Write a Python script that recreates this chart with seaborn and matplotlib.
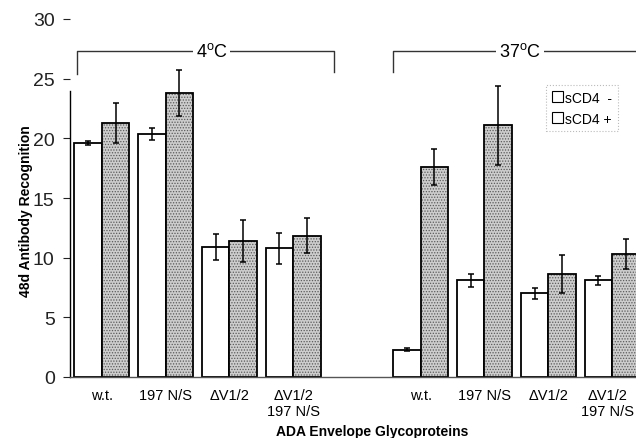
import numpy as np
import pandas as pd
import matplotlib
matplotlib.use("Agg")
import matplotlib.pyplot as plt
import matplotlib.transforms as mtransforms
import seaborn as sns
from matplotlib.patches import Patch

# ---- data ----
slots = ["4_wt", "4_197", "4_dV", "4_dV197", "gap", "37_wt", "37_197", "37_dV", "37_dV197"]
tick_labels = ["w.t.", "197 N/S", "\u0394V1/2", "\u0394V1/2\n197 N/S", "",
               "w.t.", "197 N/S", "\u0394V1/2", "\u0394V1/2\n197 N/S"]
groups = ["4_wt", "4_197", "4_dV", "4_dV197", "37_wt", "37_197", "37_dV", "37_dV197"]
minus_vals = [19.6, 20.4, 10.9, 10.8, 2.3, 8.1, 7.0, 8.1]
minus_err = [0.15, 0.5, 1.1, 1.3, 0.15, 0.55, 0.5, 0.35]
plus_vals = [21.3, 23.8, 11.4, 11.85, 17.6, 21.1, 8.6, 10.3]
plus_err = [1.65, 1.95, 1.75, 1.45, 1.5, 3.3, 1.6, 1.25]
series = ["sCD4  -", "sCD4 +"]
yticks = [0, 5, 10, 15, 20, 25, 30]

df = pd.DataFrame({
    "slot": groups * 2,
    "value": minus_vals + plus_vals,
    "err": minus_err + plus_err,
    "treat": [series[0]] * len(groups) + [series[1]] * len(groups),
})

plt.rcParams["font.family"] = ["Liberation Sans", "DejaVu Sans"]
plt.rcParams["mathtext.default"] = "regular"

fig = plt.figure(figsize=(6.36, 4.39), dpi=100)
ax = fig.add_axes([70 / 636, 1 - 378 / 439, 1 - 70 / 636, 358 / 439])

width = 0.86
sns.barplot(data=df, x="slot", y="value", hue="treat", order=slots,
            hue_order=series, palette=["white", "#cdcdcd"], width=width,
            edgecolor="black", linewidth=1.3, errorbar=None, dodge=True,
            legend=False, ax=ax, gap=0)

# stipple texture for sCD4+ bars
for p in ax.patches:
    if p.get_facecolor()[0] < 0.95 and p.get_height() > 0:
        p.set_hatch("......")
        p.set_hatch_linewidth(0.6)
        p._hatch_color = matplotlib.colors.to_rgba("#5a5a5a")

# error bars
idx = {s: i for i, s in enumerate(slots)}
xm = [idx[g] - width / 4 for g in groups]
xp = [idx[g] + width / 4 for g in groups]
ax.errorbar(xm, minus_vals, yerr=minus_err, fmt="none", ecolor="black",
            elinewidth=1.1, capsize=2.5, capthick=1.1)
ax.errorbar(xp, plus_vals, yerr=plus_err, fmt="none", ecolor="black",
            elinewidth=1.1, capsize=2.5, capthick=1.1)

ax.set_xlim(-0.5, (636 - 102) / 63.75)
ax.set_ylim(0, 30)
ax.set_yticks(yticks)
ax.set_yticklabels([str(t) for t in yticks], fontsize=14)
ax.tick_params(axis="y", length=5, width=0.8, pad=6, colors="#222222")
ax.set_xticks(range(len(slots)))
ax.set_xticklabels(tick_labels, fontsize=10.5, linespacing=1.2)
ax.tick_params(axis="x", length=0, pad=8)
# nudge the last (edge) label so it stays inside the figure
last = ax.get_xticklabels()[-1]
last.set_transform(last.get_transform() +
                   mtransforms.ScaledTranslation(-4 / 100, 0, fig.dpi_scale_trans))
ax.set_xlabel("")
ax.set_ylabel("")
for s in ["top", "right"]:
    ax.spines[s].set_visible(False)
ax.spines["left"].set_bounds(0, 24)
ax.spines["left"].set_linewidth(1.0)
ax.spines["bottom"].set_linewidth(1.0)
ax.spines["bottom"].set_color("#555555")

# temperature brackets
bk = dict(color="#333333", lw=1.0, clip_on=False)
ax.plot([-0.39, -0.39, 3.64, 3.64], [25.4, 27.3, 27.3, 25.6], **bk)
ax.plot([4.56, 4.56, 8.5], [25.6, 27.3, 27.3], **bk)
ax.text(1.72, 27.3, "4$^{o}$C", fontsize=13, ha="center", va="center",
        bbox=dict(facecolor="white", edgecolor="none", pad=2))
ax.text(6.56, 27.3, "37$^{o}$C", fontsize=13, ha="center", va="center",
        bbox=dict(facecolor="white", edgecolor="none", pad=2))

# legend
handles = [Patch(facecolor="white", edgecolor="black", linewidth=0.8),
           Patch(facecolor="white", edgecolor="black", linewidth=0.8)]
leg = ax.legend(handles, series, loc="upper left",
                bbox_to_anchor=((546 - 70) / 566, (378 - 86) / 358),
                fontsize=10, frameon=True, fancybox=False, handlelength=0.8,
                handleheight=0.8, handletextpad=0.2, borderpad=0.4,
                labelspacing=0.5, borderaxespad=0)
leg.get_frame().set_edgecolor("#aaaaaa")
leg.get_frame().set_linestyle(":")
leg.get_frame().set_linewidth(0.8)

fig.text(372 / 636, 1 - 432 / 439, "ADA Envelope Glycoproteins", fontsize=10,
         fontweight="bold", ha="center", va="center")
fig.text(26 / 636, 1 - 211 / 439, "48d Antibody Recognition", fontsize=10,
         fontweight="bold", ha="center", va="center", rotation=90)

fig.savefig("out.png", dpi=100)
